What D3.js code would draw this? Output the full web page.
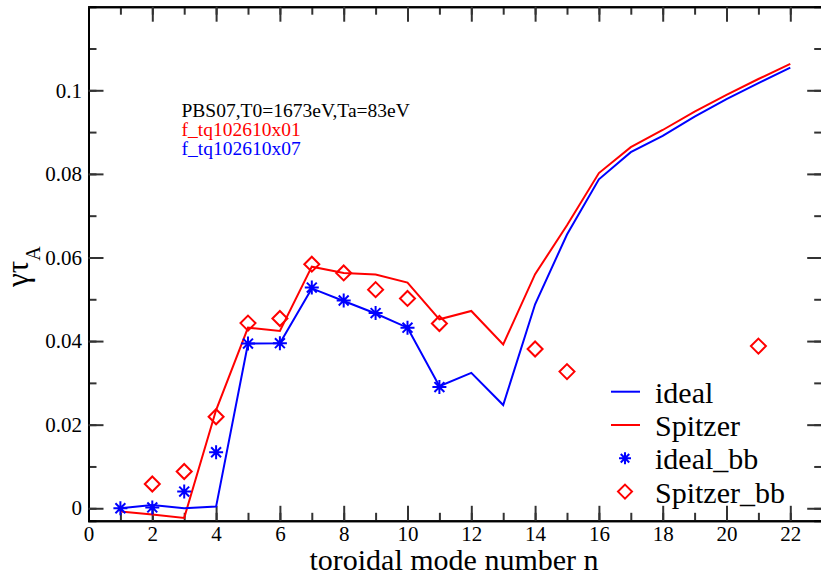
<!DOCTYPE html>
<html>
<head>
<meta charset="utf-8">
<script src="https://cdnjs.cloudflare.com/ajax/libs/d3/7.8.5/d3.min.js"></script>
<style>
  body { margin: 0; background: #fff; }
</style>
</head>
<body>
<div class="canvas"></div>
<script>
// Data
const modes = d3.range(1, 23)
const ideal = [0, 0.0008, 0, 0.0004, 0.0394, 0.0395, 0.0526, 0.0496, 0.0466, 0.0432, 0.0292,
  0.0324, 0.0247, 0.0488, 0.0655, 0.0787, 0.0852, 0.0891, 0.0937, 0.0979, 0.1017, 0.1054]
const spitzer = [-0.0008, -0.0015, -0.0023, 0.0235, 0.0432, 0.0424, 0.0578, 0.0563, 0.0559, 0.054, 0.0452,
  0.0472, 0.0392, 0.056, 0.0677, 0.0802, 0.0864, 0.0905, 0.0949, 0.0989, 0.1027, 0.1063]
const idealBBModes = [1, 2, 3, 4, 5, 6, 7, 8, 9, 10, 11]
const idealBB = [0, 0.0002, 0.004, 0.0134, 0.0394, 0.0395, 0.0528, 0.0497, 0.0467, 0.0432, 0.029]
const spitzerBBModes = [2, 3, 4, 5, 6, 7, 8, 9, 10, 11, 14, 15, 21]
const spitzerBB = [0.0058, 0.0088, 0.0219, 0.0443, 0.0454, 0.0584, 0.0563, 0.0523, 0.0502, 0.0442,
  0.0381, 0.0327, 0.0388]
const xTicks = [0, 2, 4, 6, 8, 10, 12, 14, 16, 18, 20, 22]
const yTicks = [0, 0.02, 0.04, 0.06, 0.08, 0.1]
const yTickLabels = ['0', '0.02', '0.04', '0.06', '0.08', '0.1']
const noteLines = ['PBS07,T0=1673eV,Ta=83eV', 'f_tq102610x01', 'f_tq102610x07']
const legendNames = ['ideal', 'Spitzer', 'ideal_bb', 'Spitzer_bb']

const width = 821
const height = 574
const blue = '#0000ff'
const red = '#ff0000'
const serif = '"Liberation Serif", "Times New Roman", Times, "DejaVu Serif", serif'

const svg = d3.select('.canvas')
  .append('svg')
    .attr('width', width)
    .attr('height', height)
    .attr('font-family', serif)

// Scales
const x = d3.scaleLinear().domain([0, 23]).range([88.5, 822.2])
const y = d3.scaleLinear().domain([-0.003, 0.12]).range([520.8, 6.7])

const minorX = d3.range(0, 24)
const minorY = d3.range(0, 0.12, 0.01)

// Ticks point inwards on all four sides
const styleAxis = g => {
  g.attr('font-family', serif)
  g.select('.domain').attr('stroke', '#000').attr('stroke-width', 2)
  g.selectAll('.tick line').attr('stroke', '#333').attr('stroke-width', 2)
  g.selectAll('.tick text').attr('font-size', 21).attr('fill', '#000')
}
const noText = g => g.selectAll('text').remove()

// minor ticks first
svg.append('g').attr('transform', `translate(0,${y.range()[0]})`)
  .call(d3.axisBottom(x).tickValues(minorX).tickSize(-8))
  .call(noText).call(styleAxis)
svg.append('g').attr('transform', `translate(0,${y.range()[1]})`)
  .call(d3.axisTop(x).tickValues(minorX).tickSize(-8))
  .call(noText).call(styleAxis)
svg.append('g').attr('transform', `translate(${x.range()[0]},0)`)
  .call(d3.axisLeft(y).tickValues(minorY).tickSize(-8))
  .call(noText).call(styleAxis)
svg.append('g').attr('transform', `translate(${x.range()[1]},0)`)
  .call(d3.axisRight(y).tickValues(minorY).tickSize(-8))
  .call(noText).call(styleAxis)

// major ticks with labels
svg.append('g').attr('transform', `translate(0,${y.range()[0]})`)
  .call(d3.axisBottom(x).tickValues(xTicks).tickSizeInner(-15).tickSizeOuter(0).tickPadding(5.5))
  .call(styleAxis)
svg.append('g').attr('transform', `translate(0,${y.range()[1]})`)
  .call(d3.axisTop(x).tickValues(xTicks).tickSizeInner(-15).tickSizeOuter(0))
  .call(noText).call(styleAxis)
svg.append('g').attr('transform', `translate(${x.range()[0]},0)`)
  .call(d3.axisLeft(y).tickValues(yTicks).tickSizeInner(-15).tickSizeOuter(0).tickPadding(6.5)
    .tickFormat((d, i) => yTickLabels[i]))
  .call(styleAxis)
svg.append('g').attr('transform', `translate(${x.range()[1]},0)`)
  .call(d3.axisRight(y).tickValues(yTicks).tickSizeInner(-15).tickSizeOuter(0))
  .call(noText).call(styleAxis)

// Axis titles
svg.append('text')
  .attr('x', 454).attr('y', 569.5)
  .attr('text-anchor', 'middle')
  .attr('font-size', 30)
  .text('toroidal mode number n')

const yTitle = svg.append('text')
  .attr('transform', 'translate(28,287) rotate(-90)')
  .attr('font-size', 31)
yTitle.append('tspan').text('γτ')
yTitle.append('tspan').attr('dy', 12).attr('font-size', 20).text('A')

// Lines
const line = d3.line()
  .x((d, i) => x(modes[i]))
  .y(d => y(d))

svg.append('path').datum(spitzer)
  .attr('d', line).attr('fill', 'none').attr('stroke', red).attr('stroke-width', 2)
svg.append('path').datum(ideal)
  .attr('d', line).attr('fill', 'none').attr('stroke', blue).attr('stroke-width', 2)

// Symbols
const starPath = r => {
  const d = r * Math.SQRT1_2
  return `M${-r},0L${r},0M0,${-r}L0,${r}M${-d},${-d}L${d},${d}M${-d},${d}L${d},${-d}`
}
const diamondPath = r => `M0,${-r}L${r},0L0,${r}L${-r},0Z`

svg.selectAll('.diamond')
  .data(spitzerBB)
  .enter()
  .append('path')
    .attr('class', 'diamond')
    .attr('transform', (d, i) => `translate(${x(spitzerBBModes[i])},${y(d)})`)
    .attr('d', diamondPath(7.5))
    .attr('fill', 'none').attr('stroke', red).attr('stroke-width', 2)

svg.selectAll('.star')
  .data(idealBB)
  .enter()
  .append('path')
    .attr('class', 'star')
    .attr('transform', (d, i) => `translate(${x(idealBBModes[i])},${y(d)})`)
    .attr('d', starPath(7))
    .attr('fill', 'none').attr('stroke', blue).attr('stroke-width', 2)

// Annotation text
svg.selectAll('.note')
  .data(noteLines)
  .enter()
  .append('text')
    .attr('class', 'note')
    .attr('x', 181.5)
    .attr('y', (d, i) => 117 + i * 19)
    .attr('font-size', 19.5)
    .attr('fill', (d, i) => ['#000', red, blue][i])
    .text(d => d)

// Legend
const legend = svg.append('g')
legendNames.forEach((name, i) => {
  const ly = 391.7 + i * 33.3
  if (i === 0 || i === 1) {
    legend.append('line')
      .attr('x1', 611).attr('x2', 640).attr('y1', ly).attr('y2', ly)
      .attr('stroke', i === 0 ? blue : red).attr('stroke-width', 2)
  } else {
    legend.append('path')
      .attr('transform', `translate(625,${ly})`)
      .attr('d', i === 2 ? starPath(6) : diamondPath(7))
      .attr('fill', 'none').attr('stroke', i === 2 ? blue : red).attr('stroke-width', 2)
  }
  legend.append('text')
    .attr('x', 655).attr('y', ly + 11)
    .attr('font-size', 30)
    .text(name)
})
</script>
</body>
</html>
